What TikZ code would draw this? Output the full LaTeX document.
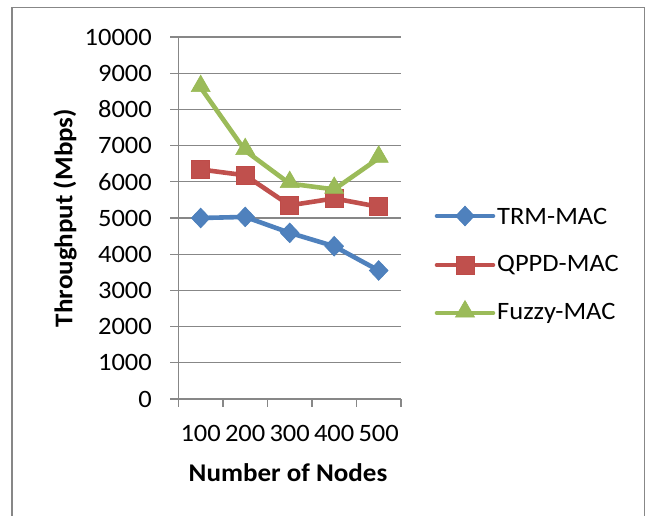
\documentclass[tikz,border=0pt]{standalone}
\usepackage{fontspec}
\setmainfont{Carlito}[FakeStretch=1.06]
\usetikzlibrary{shapes.geometric}
\definecolor{trm}{HTML}{4F81BD}
\definecolor{trmb}{HTML}{4A7EBB}
\definecolor{qppd}{HTML}{C0504D}
\definecolor{qppdb}{HTML}{BE4B48}
\definecolor{fuzzy}{HTML}{9BBB59}
\definecolor{fuzzyb}{HTML}{98B954}
\definecolor{gridc}{HTML}{878787}
\tikzset{
  gridline/.style={draw=gridc, line width=1.3pt},
  serline/.style={line width=4.6pt, line join=round, line cap=round},
  dmark/.style={diamond, fill=trm, draw=trmb, line width=0.6pt, minimum width=19pt, minimum height=20pt, inner sep=0pt},
  smark/.style={rectangle, fill=qppd, draw=qppdb, line width=0.6pt, minimum size=18pt, inner sep=0pt},
  tmark/.style={regular polygon, regular polygon sides=3, fill=fuzzy, draw=fuzzyb, line width=0.6pt, minimum size=22pt, inner sep=0pt},
  ticklbl/.style={font=\fontsize{25}{28}\selectfont, inner sep=0pt},
  legtxt/.style={font=\fontsize{25}{28}\selectfont, inner sep=0pt, anchor=west},
  axtitle/.style={font=\bfseries\fontsize{25.5}{28}\selectfont, inner sep=0pt},
}
\begin{document}
\begin{tikzpicture}[x=1pt, y=-1pt]
\useasboundingbox (0,0) rectangle (646,515);
% frame
\draw[draw=gridc, line width=1.6pt] (12,516) -- (12,7.5) -- (644.5,7.5) -- (644.5,516);
\begin{scope}[yshift=-399pt, y=36.2pt]
  % grid lines and y labels
  \foreach \v in {0,...,10} {
    \draw[gridline] (170,\v) -- (401,\v);
    \pgfmathtruncatemacro{\lab}{\v*1000}
    \node[ticklbl, anchor=east] (yl\v) at (152,\v) {\lab};
  }
  % y axis
  \draw[gridline] (178.4,0) -- (178.4,10);
  % x ticks
  \foreach \i/\x in {0/178.4,1/223,2/267.5,3/312,4/356.5,5/401} {
    \draw[gridline] (\x,0) -- (\x,-0.23);
  }
  \coordinate (t1) at (200.7,5.00);
  \coordinate (t2) at (245.2,5.03);
  \coordinate (t3) at (289.7,4.59);
  \coordinate (t4) at (334.2,4.22);
  \coordinate (t5) at (378.7,3.55);
  \coordinate (q1) at (200.7,6.34);
  \coordinate (q2) at (245.2,6.18);
  \coordinate (q3) at (289.7,5.35);
  \coordinate (q4) at (334.2,5.54);
  \coordinate (q5) at (378.7,5.31);
  \coordinate (f1) at (200.7,8.60);
  \coordinate (f2) at (245.2,6.86);
  \coordinate (f3) at (289.7,5.95);
  \coordinate (f4) at (334.2,5.79);
  \coordinate (f5) at (378.7,6.65);
  % TRM-MAC
  \draw[serline, draw=trm] (t1) -- (t2) -- (t3) -- (t4) -- (t5);
  \foreach \i in {1,...,5} \node[dmark] (tm\i) at (t\i) {};
  % QPPD-MAC
  \draw[serline, draw=qppd] (q1) -- (q2) -- (q3) -- (q4) -- (q5);
  \foreach \i in {1,...,5} \node[smark] (qm\i) at (q\i) {};
  % Fuzzy-MAC
  \draw[serline, draw=fuzzy] (f1) -- (f2) -- (f3) -- (f4) -- (f5);
  \foreach \i in {1,...,5} \node[tmark, yshift=1.5pt] (fm\i) at (f\i) {};
\end{scope}
% x labels
\node[ticklbl] (xl1) at (200.7,433) {100};
\node[ticklbl] (xl2) at (245.2,433) {200};
\node[ticklbl] (xl3) at (289.7,433) {300};
\node[ticklbl] (xl4) at (334.2,433) {400};
\node[ticklbl] (xl5) at (378.7,433) {500};
% axis titles
\node[axtitle] (xt) at (288,473) {Number of Nodes};
\node[axtitle, rotate=90] (yt) at (65,218) {Throughput (Mbps)};
% legend
\coordinate (la1) at (437,216); \coordinate (lb1) at (493,216);
\coordinate (la2) at (437,265); \coordinate (lb2) at (493,265);
\coordinate (la3) at (437,313); \coordinate (lb3) at (493,313);
\draw[serline, draw=trm] (la1) -- (lb1);
\node[dmark] (lm1) at (465,216) {};
\draw[serline, draw=qppd] (la2) -- (lb2);
\node[smark] (lm2) at (465,265) {};
\draw[serline, draw=fuzzy] (la3) -- (lb3);
\node[tmark] (lm3) at (465,311.5) {};
\node[legtxt] (lt1) at (497,216) {TRM-MAC};
\node[legtxt] (lt2) at (497,265) {QPPD-MAC};
\node[legtxt] (lt3) at (497,313) {Fuzzy-MAC};
\end{tikzpicture}
\end{document}
